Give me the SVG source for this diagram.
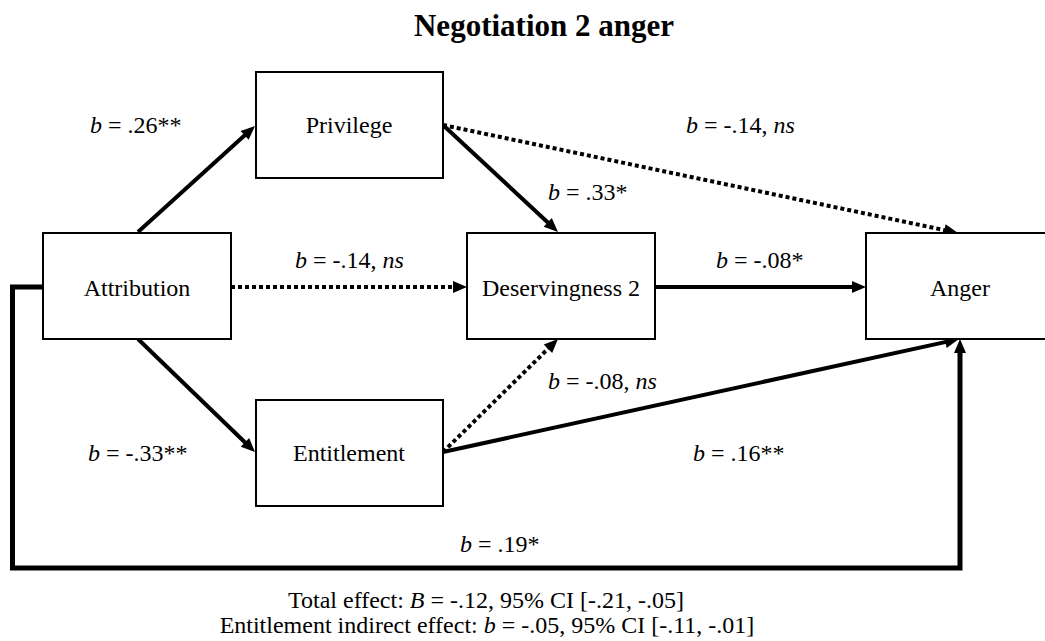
<svg xmlns="http://www.w3.org/2000/svg" width="1045" height="641" viewBox="0 0 1045 641">
<style>
text{font-family:"Liberation Serif","Times New Roman",serif;font-size:24px;fill:#000}
.t{font-size:31px;font-weight:bold}
.box{fill:#fff;stroke:#000;stroke-width:2}
.c{fill:none;stroke:#000;stroke-width:4}
.e{stroke-width:5}
.d{stroke-dasharray:4 3}
.m{text-anchor:middle}
.i{font-style:italic}
</style>
<defs>
<marker id="ah" markerUnits="userSpaceOnUse" markerWidth="14" markerHeight="12" refX="2" refY="6" orient="auto" overflow="visible">
<path d="M0,0 L14,6 L0,12 z" fill="#000"/>
</marker>
</defs>
<rect width="1045" height="641" fill="#fff"/>
<text class="t m" x="544" y="36">Negotiation 2 anger</text>
<g id="connectors">
<line class="c" x1="138" y1="232" x2="246.1" y2="134.0" marker-end="url(#ah)"/>
<line class="c" x1="443" y1="125" x2="549.2" y2="223.8" marker-end="url(#ah)"/>
<line class="c d" x1="443" y1="125" x2="946.3" y2="230.5" marker-end="url(#ah)"/>
<line class="c d" x1="231" y1="287" x2="455" y2="287" marker-end="url(#ah)"/>
<line class="c" x1="655" y1="287" x2="854" y2="287" marker-end="url(#ah)"/>
<line class="c" x1="138" y1="339" x2="246.4" y2="443.7" marker-end="url(#ah)"/>
<line class="c d" x1="443" y1="452" x2="549.4" y2="347.4" marker-end="url(#ah)"/>
<line class="c" x1="443" y1="452" x2="947.3" y2="341.6" marker-end="url(#ah)"/>
<path class="c e" d="M43,287 H12.5 V568 H960 V351" marker-end="url(#ah)"/>
</g>
<g id="privilege"><rect class="box" x="256" y="72" width="187" height="106"/><text class="m" x="349" y="133">Privilege</text></g>
<g id="attribution"><rect class="box" x="43" y="233" width="188" height="106"/><text class="m" x="137" y="296">Attribution</text></g>
<g id="deservingness"><rect class="box" x="467" y="233" width="188" height="106"/><text class="m" x="561" y="296">Deservingness 2</text></g>
<g id="anger"><rect class="box" x="866" y="233" width="190" height="106"/><text class="m" x="960" y="296">Anger</text></g>
<g id="entitlement"><rect class="box" x="256" y="400" width="187" height="106"/><text class="m" x="349" y="461">Entitlement</text></g>
<g id="labels">
<text x="90" y="133"><tspan class="i">b</tspan> = .26**</text>
<text x="686" y="133"><tspan class="i">b</tspan> = -.14, <tspan class="i">ns</tspan></text>
<text x="548" y="200"><tspan class="i">b</tspan> = .33*</text>
<text x="295" y="268"><tspan class="i">b</tspan> = -.14, <tspan class="i">ns</tspan></text>
<text x="716" y="268"><tspan class="i">b</tspan> = -.08*</text>
<text x="548" y="389"><tspan class="i">b</tspan> = -.08, <tspan class="i">ns</tspan></text>
<text x="88" y="461"><tspan class="i">b</tspan> = -.33**</text>
<text x="693" y="461"><tspan class="i">b</tspan> = .16**</text>
<text x="460" y="552"><tspan class="i">b</tspan> = .19*</text>
<text class="m" x="486" y="608">Total effect: <tspan class="i">B</tspan> = -.12, 95% CI [-.21, -.05]</text>
<text class="m" x="487" y="633">Entitlement indirect effect: <tspan class="i">b</tspan> = -.05, 95% CI [-.11, -.01]</text>
</g>
</svg>
